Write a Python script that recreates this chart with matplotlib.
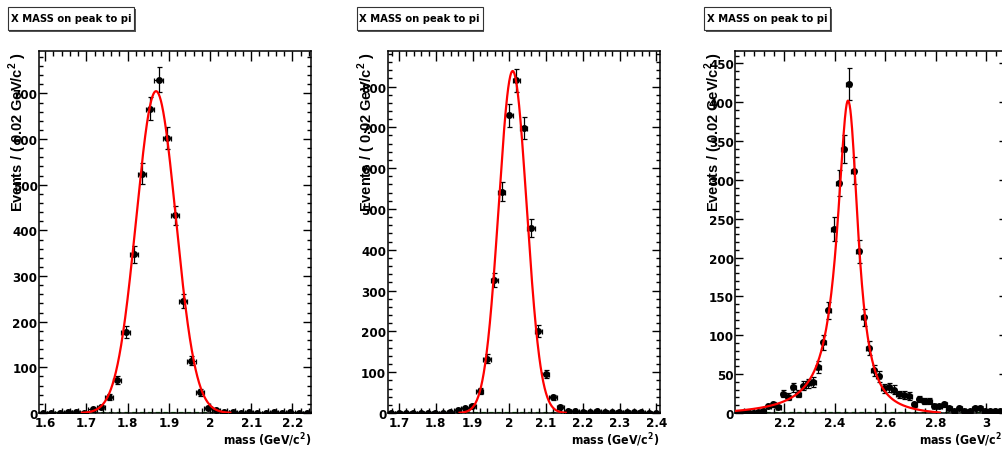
import numpy as np
import matplotlib
matplotlib.use("Agg")
import matplotlib.pyplot as plt
from matplotlib import font_manager
from matplotlib.font_manager import FontProperties
from matplotlib.patches import Rectangle
from matplotlib.ticker import MultipleLocator, AutoMinorLocator, FormatStrFormatter

BIN = 0.02
TITLE = "X MASS on peak to pi"

# panel 1 : bins start at 1.585
lo1 = 1.585
counts1 = [0, 0, 1, 3, 2, 1, 9, 13, 35, 72, 177, 348, 524, 667, 730, 603, 433,
           245, 115, 45, 12, 7, 3, 2, 1, 2, 1, 1, 2, 1, 2, 1, 1]
ylim1 = 793
fit1 = dict(amp=705, mean=1.869, sigma=0.048)

# panel 2 : bins start at 1.669
lo2 = 1.669
counts2 = [0, 0, 0, 1, 1, 1, 1, 1, 2, 8, 12, 17, 55, 133, 326, 542, 729, 815,
           699, 453, 201, 96, 38, 15, 6, 4, 3, 3, 4, 2, 2, 3, 2, 3, 2, 0, 0]
ylim2 = 887
fit2 = dict(amp=838, mean=2.009, sigma=0.038)

# panel 3 : bins start at 2.005
lo3 = 2.005
counts3 = [0, 0, 1, 0, 1, 3, 9, 11, 8, 25, 21, 33, 25, 35, 38, 40, 59, 91, 132,
           237, 296, 340, 423, 312, 208, 123, 84, 55, 47, 32, 33, 30, 24, 23, 22,
           11, 18, 15, 15, 9, 9, 11, 6, 2, 6, 2, 2, 6, 7, 3, 3, 3, 3, 2]
ylim3 = 466
fit3 = dict(amp=402, mean=2.452, g_left=0.052, p_left=1.9,
            g_right=0.048, p_right=2.2, offset=4)


def gauss(x, amp, mean, sigma):
    return amp * np.exp(-0.5 * ((x - mean) / sigma) ** 2)


def peak3(x, amp, mean, g_left, p_left, g_right, p_right, offset):
    d = x - mean
    g = np.where(d < 0, g_left, g_right)
    p = np.where(d < 0, p_left, p_right)
    return (amp + offset) / (1 + np.abs(d / g) ** p) - offset


# look for a condensed bold face (ROOT labels are narrow helvetica)
narrow_file = None
for f in font_manager.fontManager.ttflist:
    cond = ("Narrow" in f.name or "Condensed" in f.name
            or f.stretch in ("condensed", "semi-condensed"))
    if cond and f.weight in ("bold", 700) and f.style == "normal":
        narrow_file = f.fname
        break

if narrow_file:
    def nfont(size):
        return FontProperties(fname=narrow_file, size=size)
    tick_size, xlab_size, title_size = 9.5, 8.8, 8.0
else:
    def nfont(size):
        return FontProperties(family="Liberation Sans", weight="bold", size=size)
    tick_size, xlab_size, title_size = 9, 8, 7.6

W, H = 1003, 452
fig = plt.figure(figsize=(W / 100, H / 100), dpi=100)

panels = [
    (39.0, lo1, counts1, ylim1, 0.1, 100, lambda x: gauss(x, **fit1)),
    (387.7, lo2, counts2, ylim2, 0.1, 100, lambda x: gauss(x, **fit2)),
    (735.3, lo3, counts3, ylim3, 0.2, 50, lambda x: peak3(x, **fit3)),
]
ax_top, ax_bot, ax_w = 52.0, 414.0, 272.0

for left, lo, counts, ytop, xmaj, ymaj, model in panels:
    ax = fig.add_axes([left / W, 1 - ax_bot / H, ax_w / W, (ax_bot - ax_top) / H])
    counts = np.array(counts, dtype=float)
    centers = lo + BIN / 2 + BIN * np.arange(len(counts))
    hi = lo + BIN * len(counts)

    ax.axhline(0, color="#1a9a1a", ls=(0, (2, 1.5)), lw=1.6, zorder=1)
    ax.errorbar(centers, counts, yerr=np.sqrt(counts), xerr=BIN / 2, fmt="o",
                color="black", ms=4, elinewidth=0.9, capsize=1.8,
                capthick=0.9, zorder=3)

    xs = np.linspace(lo, hi, 800)
    ys = model(xs)
    ys = np.where(ys > 0.6, ys, np.nan)
    ax.plot(xs, ys, color="red", lw=1.6, zorder=4)

    ax.set_xlim(lo, hi)
    ax.set_ylim(0, ytop)
    ax.xaxis.set_major_locator(MultipleLocator(xmaj))
    ax.xaxis.set_minor_locator(AutoMinorLocator(5))
    ax.yaxis.set_major_locator(MultipleLocator(ymaj))
    ax.yaxis.set_minor_locator(AutoMinorLocator(5))
    ax.xaxis.set_major_formatter(FormatStrFormatter("%g"))
    ax.yaxis.set_major_formatter(FormatStrFormatter("%g"))

    ax.tick_params(which="both", direction="in", top=True, right=True,
                   width=1.0, color="black")
    ax.tick_params(axis="x", which="major", length=7.2, pad=2)
    ax.tick_params(axis="x", which="minor", length=3.6)
    ax.tick_params(axis="y", which="major", length=5.5, pad=1)
    ax.tick_params(axis="y", which="minor", length=3)
    for lab in ax.get_xticklabels() + ax.get_yticklabels():
        lab.set_fontproperties(nfont(tick_size))
    for sp in ax.spines.values():
        sp.set_linewidth(1.1)

    ax.text(-21 / ax_w, 1.0, r"Events / ( 0.02 GeV/c$^{\mathregular{2}}$ )",
            transform=ax.transAxes, rotation=90, ha="center", va="top",
            family="Liberation Sans", weight="bold", fontsize=10.5)
    ax.text(1.0, -26 / (ax_bot - ax_top), r"mass (GeV/c$^{\mathregular{2}}$)",
            transform=ax.transAxes, ha="right", va="center",
            fontproperties=nfont(xlab_size))

    # title pave
    bx0, by0, bw, bh = left - 31, 8, 126, 23
    fig.add_artist(Rectangle(((bx0 + 1.5) / W, 1 - (by0 + bh + 1.5) / H), bw / W, bh / H,
                             transform=fig.transFigure, facecolor="#555555",
                             edgecolor="none"))
    fig.add_artist(Rectangle((bx0 / W, 1 - (by0 + bh) / H), bw / W, bh / H,
                             transform=fig.transFigure, facecolor="white",
                             edgecolor="#333333", lw=0.8))
    fig.text((bx0 + bw / 2) / W, 1 - (by0 + bh / 2) / H, TITLE, ha="center",
             va="center", fontproperties=nfont(title_size))

fig.savefig("out.png", dpi=100)
